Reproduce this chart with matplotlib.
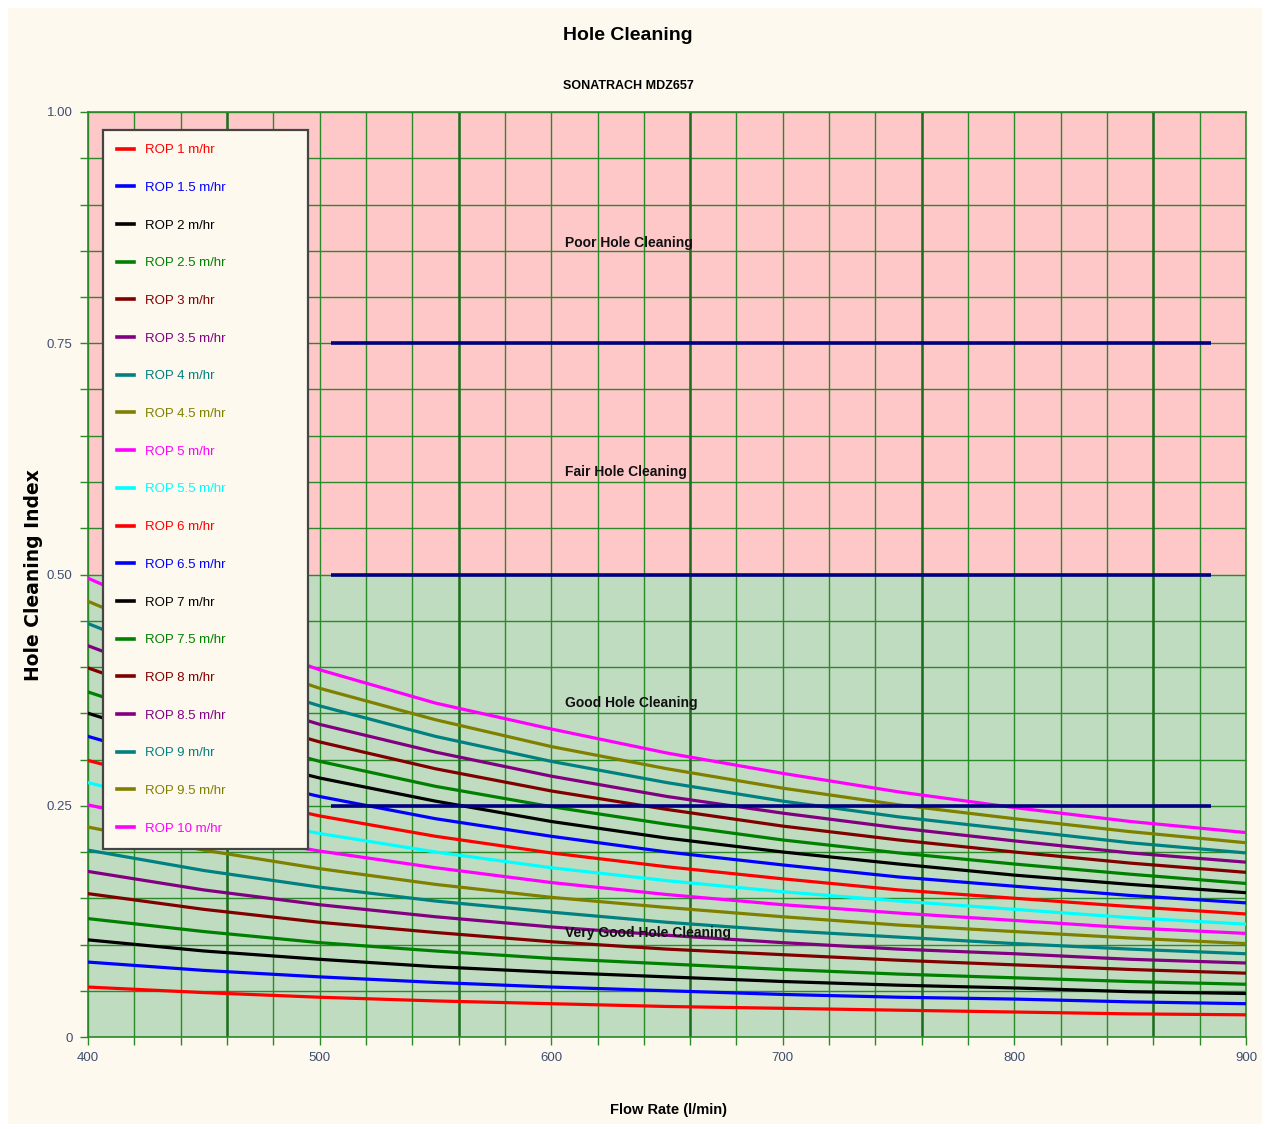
import numpy as np
import matplotlib.pyplot as plt
from matplotlib.patches import Rectangle

NARROW = ['Liberation Sans Narrow', 'Liberation Sans', 'DejaVu Sans']

# Flow rate stations (l/min)
flow = [400, 450, 500, 550, 600, 650, 700, 750, 800, 850, 900]

# Hole cleaning index for each ROP (m/hr)
hci_rop1 = [0.054, 0.048, 0.043, 0.039, 0.036, 0.033, 0.031, 0.029, 0.027, 0.025, 0.024]
hci_rop1_5 = [0.081, 0.072, 0.065, 0.059, 0.054, 0.050, 0.046, 0.043, 0.041, 0.038, 0.036]
hci_rop2 = [0.105, 0.093, 0.084, 0.076, 0.070, 0.065, 0.060, 0.056, 0.053, 0.049, 0.047]
hci_rop2_5 = [0.128, 0.114, 0.102, 0.093, 0.085, 0.079, 0.073, 0.068, 0.064, 0.060, 0.057]
hci_rop3 = [0.155, 0.138, 0.124, 0.113, 0.103, 0.095, 0.089, 0.083, 0.078, 0.073, 0.069]
hci_rop3_5 = [0.179, 0.159, 0.143, 0.130, 0.119, 0.110, 0.102, 0.095, 0.090, 0.084, 0.080]
hci_rop4 = [0.202, 0.180, 0.162, 0.147, 0.135, 0.124, 0.115, 0.108, 0.101, 0.095, 0.090]
hci_rop4_5 = [0.227, 0.202, 0.182, 0.165, 0.151, 0.140, 0.130, 0.121, 0.114, 0.107, 0.101]
hci_rop5 = [0.251, 0.223, 0.201, 0.183, 0.167, 0.154, 0.143, 0.134, 0.126, 0.118, 0.112]
hci_rop5_5 = [0.275, 0.244, 0.220, 0.200, 0.183, 0.169, 0.157, 0.147, 0.138, 0.129, 0.122]
hci_rop6 = [0.299, 0.266, 0.239, 0.217, 0.199, 0.184, 0.171, 0.159, 0.150, 0.141, 0.133]
hci_rop6_5 = [0.325, 0.289, 0.260, 0.236, 0.217, 0.200, 0.186, 0.173, 0.163, 0.153, 0.145]
hci_rop7 = [0.350, 0.311, 0.280, 0.255, 0.233, 0.215, 0.200, 0.187, 0.175, 0.165, 0.156]
hci_rop7_5 = [0.373, 0.332, 0.298, 0.271, 0.249, 0.230, 0.213, 0.199, 0.187, 0.176, 0.166]
hci_rop8 = [0.399, 0.355, 0.319, 0.290, 0.266, 0.246, 0.228, 0.213, 0.200, 0.188, 0.178]
hci_rop8_5 = [0.423, 0.376, 0.338, 0.308, 0.282, 0.260, 0.242, 0.226, 0.212, 0.199, 0.189]
hci_rop9 = [0.447, 0.397, 0.358, 0.325, 0.298, 0.275, 0.255, 0.238, 0.224, 0.210, 0.199]
hci_rop9_5 = [0.471, 0.419, 0.377, 0.343, 0.314, 0.290, 0.269, 0.251, 0.236, 0.222, 0.210]
hci_rop10 = [0.496, 0.441, 0.397, 0.361, 0.333, 0.307, 0.285, 0.265, 0.248, 0.233, 0.221]

rop = [1, 1.5, 2, 2.5, 3, 3.5, 4, 4.5, 5, 5.5, 6, 6.5, 7, 7.5, 8, 8.5, 9, 9.5, 10]
series = [hci_rop1, hci_rop1_5, hci_rop2, hci_rop2_5, hci_rop3, hci_rop3_5, hci_rop4,
          hci_rop4_5, hci_rop5, hci_rop5_5, hci_rop6, hci_rop6_5, hci_rop7, hci_rop7_5,
          hci_rop8, hci_rop8_5, hci_rop9, hci_rop9_5, hci_rop10]

colors = ['#FF0000', '#0000FF', '#000000', '#008000', '#800000',
          '#800080', '#008080', '#808000', '#FF00FF', '#00FFFF']

# Cleaning zone limits and labels
zone_levels = [0.25, 0.50, 0.75]
zone_start, zone_end = 505, 885
zone_labels = ['Very Good Hole Cleaning', 'Good Hole Cleaning', 'Fair Hole Cleaning', 'Poor Hole Cleaning']
zone_label_y = [0.112, 0.361, 0.611, 0.858]
zone_label_x = 606

fig = plt.figure(figsize=(12.69, 11.29), dpi=100, facecolor='white')
fig.patches.append(Rectangle((8 / 1269, 5 / 1129), 1254 / 1269, 1116 / 1129,
                             transform=fig.transFigure, facecolor='#FEF9EE',
                             edgecolor='none', zorder=-10))

ax = fig.add_axes([88 / 1269, 1 - 1037 / 1129, 1158 / 1269, 925 / 1129])
ax.set_zorder(1)
ax.set_xlim(400, 900)
ax.set_ylim(0, 1)

# background zones
ax.axhspan(0.5, 1.0, color='#FFC8C8', zorder=0)
ax.axhspan(0.0, 0.5, color='#C0DCC0', zorder=0)

grid_col = '#2A8A2A'
ax.set_xticks(np.arange(400, 901, 100))
ax.set_xticks(np.arange(400, 901, 20), minor=True)
ax.set_yticks([0, 0.25, 0.5, 0.75, 1.0])
ax.set_yticklabels(['0', '0.25', '0.50', '0.75', '1.00'])
ax.set_yticks(np.arange(0, 1.001, 0.05), minor=True)
ax.grid(which='both', color=grid_col, linewidth=1.0, zorder=1)
ax.vlines(np.arange(460, 900, 100), 0, 1, color='#1F6E1F', linewidth=1.8, zorder=1)
ax.set_axisbelow(True)

for s in ax.spines.values():
    s.set_color(grid_col)
    s.set_linewidth(1.2)

ax.tick_params(which='both', direction='out', color=grid_col, length=6, width=1,
               labelcolor='#3E4E70', labelsize=9.5, pad=5)
for lab in ax.get_xticklabels() + ax.get_yticklabels():
    lab.set_family(NARROW)

# cleaning curves
for i, (r, vals) in enumerate(zip(rop, series)):
    ax.plot(flow, vals, color=colors[i % len(colors)], linewidth=2.3,
            label=f'ROP {r:g} m/hr', zorder=3)

# zone boundaries
ax.hlines(zone_levels, zone_start, zone_end, color='#000080', linewidth=2.6, zorder=4)
for txt, yv in zip(zone_labels, zone_label_y):
    ax.text(zone_label_x, yv, txt, ha='left', va='center', fontsize=10,
            fontweight='bold', family=NARROW, color='#111111', zorder=4)

leg = ax.legend(loc='upper left', bbox_to_anchor=(0.013, 0.2, 0.177, 0.7805),
                mode='expand', borderaxespad=0, fancybox=False, frameon=True,
                prop={'family': NARROW, 'size': 9.5}, handlelength=1.3,
                handletextpad=0.8, labelspacing=1.93, borderpad=1.05)
leg.get_frame().set_facecolor('#FEF9EE')
leg.get_frame().set_edgecolor('#444444')
leg.get_frame().set_linewidth(1.6)
leg.get_frame().set_alpha(1)
for txt, line in zip(leg.get_texts(), leg.get_lines()):
    txt.set_color(line.get_color())
    line.set_linewidth(2.6)

ax.set_xlabel('Flow Rate (l/min)', fontsize=10.5, fontweight='bold', family=NARROW)
ax.xaxis.set_label_coords((668 - 88) / 1158, -(1103 - 1037) / 925)
ax.set_ylabel('Hole Cleaning Index', fontsize=13.5, fontweight='bold', family='DejaVu Sans')
ax.yaxis.set_label_coords(-(88 - 43) / 1158, (1037 - 575) / 925)

fig.text(628 / 1269, 1 - 35 / 1129, 'Hole Cleaning', ha='center', va='center',
         fontsize=14, fontweight='bold', family=NARROW)
fig.text(628 / 1269, 1 - 86 / 1129, 'SONATRACH MDZ657', ha='center', va='center',
         fontsize=9, fontweight='bold', family=NARROW)

fig.savefig('out.png', dpi=100, facecolor=fig.get_facecolor())
